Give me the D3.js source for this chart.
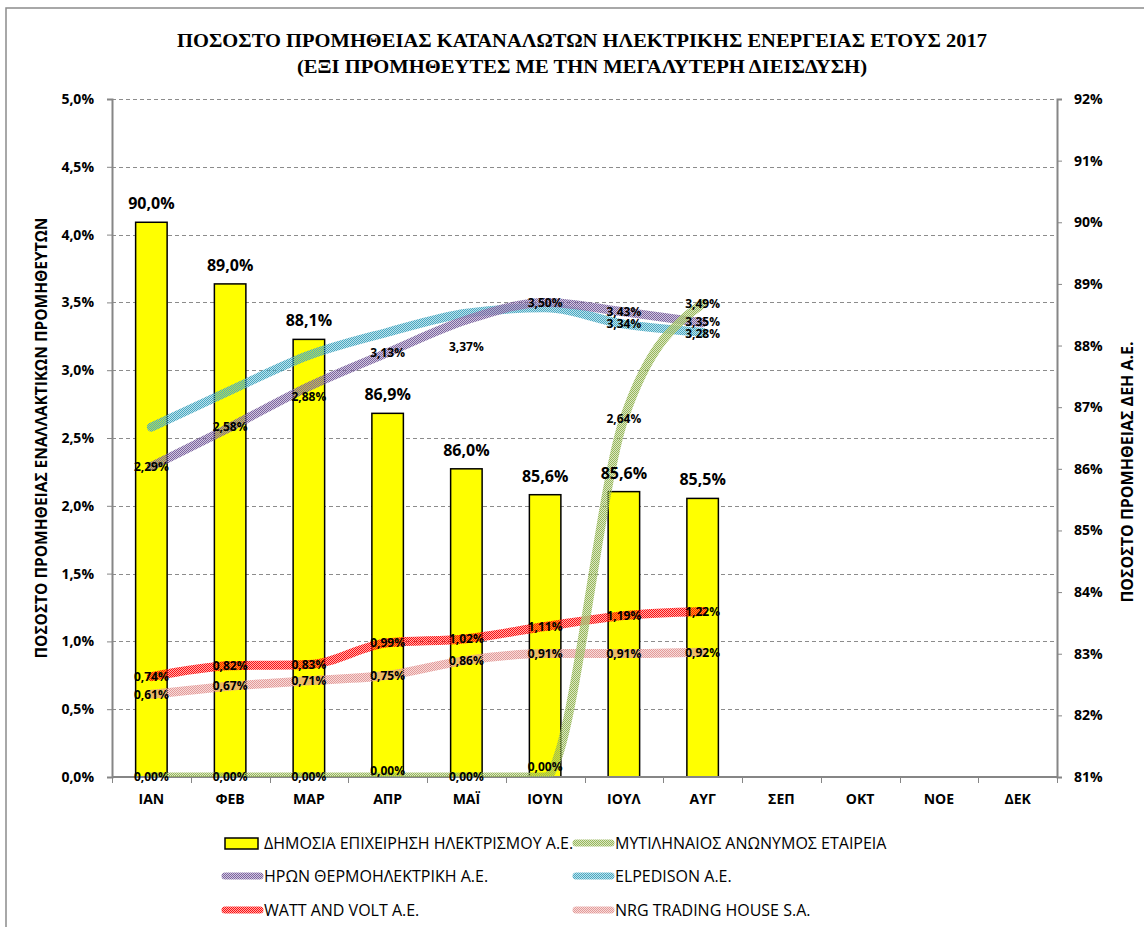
<!DOCTYPE html>
<html>
<head>
<meta charset="utf-8">
<script src="https://cdn.jsdelivr.net/npm/d3@7"></script>
<style>
  html, body { margin: 0; padding: 0; background: #fff; }
  svg { display: block; }
  text { font-family: "Open Sans", "Noto Sans", sans-serif; }
</style>
</head>
<body>
<svg id="chart" width="1144" height="927"></svg>
<script>
// ---------- DATA ----------
const months = ["ΙΑΝ", "ΦΕΒ", "ΜΑΡ", "ΑΠΡ", "ΜΑΪ", "ΙΟΥΝ", "ΙΟΥΛ", "ΑΥΓ", "ΣΕΠ", "ΟΚΤ", "ΝΟΕ", "ΔΕΚ"];
const dehShare   = [90.0, 89.0, 88.1, 86.9, 86.0, 85.58, 85.63, 85.52];   // right axis (%)
const mytilineos = [0.00, 0.00, 0.00, 0.00, 0.00, 0.00, 2.64, 3.49];       // left axis (%)
const heron      = [2.29, 2.58, 2.88, 3.13, 3.37, 3.50, 3.43, 3.35];
const elpedison  = [2.58, 2.85, 3.11, 3.28, 3.42, 3.46, 3.34, 3.28];
const wattVolt   = [0.74, 0.82, 0.83, 0.99, 1.02, 1.11, 1.19, 1.22];
const nrg        = [0.61, 0.67, 0.71, 0.75, 0.86, 0.91, 0.91, 0.92];
const leftTicks  = [0, 0.5, 1.0, 1.5, 2.0, 2.5, 3.0, 3.5, 4.0, 4.5, 5.0];
const rightTicks = [81, 82, 83, 84, 85, 86, 87, 88, 89, 90, 91, 92];
const seriesNames = [
  "ΔΗΜΟΣΙΑ ΕΠΙΧΕΙΡΗΣΗ ΗΛΕΚΤΡΙΣΜΟΥ Α.Ε.",
  "ΜΥΤΙΛΗΝΑΙΟΣ ΑΝΩΝΥΜΟΣ ΕΤΑΙΡΕΙΑ",
  "ΗΡΩΝ ΘΕΡΜΟΗΛΕΚΤΡΙΚΗ Α.Ε.",
  "ELPEDISON Α.Ε.",
  "WATT AND VOLT Α.Ε.",
  "NRG TRADING HOUSE S.A."
];
const titleLines = [
  "ΠΟΣΟΣΤΟ ΠΡΟΜΗΘΕΙΑΣ ΚΑΤΑΝΑΛΩΤΩΝ ΗΛΕΚΤΡΙΚΗΣ ΕΝΕΡΓΕΙΑΣ ΕΤΟΥΣ 2017",
  "(ΕΞΙ ΠΡΟΜΗΘΕΥΤΕΣ ΜΕ ΤΗΝ ΜΕΓΑΛΥΤΕΡΗ ΔΙΕΙΣΔΥΣΗ)"
];
const leftTitle = "ΠΟΣΟΣΤΟ ΠΡΟΜΗΘΕΙΑΣ ΕΝΑΛΛΑΚΤΙΚΩΝ ΠΡΟΜΗΘΕΥΤΩΝ";
const rightTitle = "ΠΟΣΟΣΤΟ ΠΡΟΜΗΘΕΙΑΣ ΔΕΗ Α.Ε.";

// ---------- LAYOUT / STYLE ----------
const svg = d3.select("#chart");
const plot = { left: 112, right: 1057, top: 99, bottom: 777 };
const fmt1 = v => v.toFixed(1).replace(".", ",") + "%";
const fmt2 = v => v.toFixed(2).replace(".", ",") + "%";
const fmt0 = v => v.toFixed(0) + "%";

const x = d3.scaleBand().domain(months).range([plot.left, plot.right]).padding(0);
const bw = x.bandwidth();
const cx = m => x(m) + bw / 2;
const yL = d3.scaleLinear().domain([0, 5]).range([plot.bottom, plot.top]);
const yR = d3.scaleLinear().domain([81, 92]).range([plot.bottom, plot.top]);

// chart border
svg.append("rect").attr("x", 6).attr("y", 8).attr("width", 1150).attr("height", 930)
  .attr("fill", "none").attr("stroke", "#8c8c8c").attr("stroke-width", 1.5);

// patterns for textured lines
const defs = svg.append("defs");
defs.append("clipPath").attr("id", "plotclip").append("rect")
  .attr("x", plot.left - 20).attr("y", plot.top - 20)
  .attr("width", plot.right - plot.left + 20).attr("height", plot.bottom - plot.top + 20);
const lineSeries = [
  { key: "myt", name: seriesNames[1], values: mytilineos, color: "#98b85a" },
  { key: "her", name: seriesNames[2], values: heron,      color: "#7c63a0" },
  { key: "elp", name: seriesNames[3], values: elpedison,  color: "#47a9c3" },
  { key: "wat", name: seriesNames[4], values: wattVolt,   color: "#ff1010" },
  { key: "nrg", name: seriesNames[5], values: nrg,        color: "#e49a98" }
];
lineSeries.forEach(s => {
  const p = defs.append("pattern").attr("id", "pat-" + s.key)
    .attr("patternUnits", "userSpaceOnUse").attr("width", 2).attr("height", 2);
  p.append("rect").attr("x", 0).attr("y", 0).attr("width", 1).attr("height", 1).attr("fill", s.color);
  p.append("rect").attr("x", 1).attr("y", 1).attr("width", 1).attr("height", 1).attr("fill", s.color);
  p.append("rect").attr("x", 1).attr("y", 0).attr("width", 1).attr("height", 1).attr("fill", s.color).attr("opacity", 0.35);
  p.append("rect").attr("x", 0).attr("y", 1).attr("width", 1).attr("height", 1).attr("fill", s.color).attr("opacity", 0.35);
});

// gridlines (left axis)
svg.append("g").selectAll("line").data(leftTicks.filter(d => d > 0)).join("line")
  .attr("x1", plot.left).attr("x2", plot.right)
  .attr("y1", d => Math.round(yL(d)) + 0.5).attr("y2", d => Math.round(yL(d)) + 0.5)
  .attr("stroke", "#8c8c8c").attr("stroke-width", 1).attr("stroke-dasharray", "4,3");

// title
const tl = svg.append("g").attr("font-weight", "bold").attr("font-size", 19).attr("text-anchor", "middle");
tl.append("text").attr("x", 582).attr("y", 47).attr("textLength", 810).attr("lengthAdjust", "spacingAndGlyphs")
  .style("font-family", "'Liberation Serif', serif").text(titleLines[0]);
tl.append("text").attr("x", 582).attr("y", 73).attr("textLength", 570).attr("lengthAdjust", "spacingAndGlyphs")
  .style("font-family", "'Liberation Serif', serif").text(titleLines[1]);

// bars (right axis)
const barW = bw * 0.4;
const barData = dehShare.map((v, i) => ({ m: months[i], v }));
svg.append("g").selectAll("rect").data(barData).join("rect")
  .attr("x", d => cx(d.m) - barW / 2).attr("y", d => yR(d.v))
  .attr("width", barW).attr("height", d => yR(81) - yR(d.v))
  .attr("fill", "#ffff00").attr("stroke", "#000").attr("stroke-width", 1.5);

// axes
const axisColor = "#868686";
const gL = svg.append("g").attr("transform", `translate(${plot.left},0)`)
  .call(d3.axisLeft(yL).tickValues(leftTicks).tickFormat(fmt1).tickSize(5).tickPadding(13));
const gR = svg.append("g").attr("transform", `translate(${plot.right},0)`)
  .call(d3.axisRight(yR).tickValues(rightTicks).tickFormat(fmt0).tickSize(5).tickPadding(12));
const gB = svg.append("g").attr("transform", `translate(0,${plot.bottom})`)
  .call(d3.axisBottom(x).tickSize(0).tickPadding(17));
[gL, gR, gB].forEach(g => {
  g.select(".domain").attr("stroke", axisColor).attr("stroke-width", 2);
  g.selectAll(".tick line").attr("stroke", axisColor).attr("stroke-width", 1);
  g.selectAll("text").attr("font-family", "'Open Sans', sans-serif").attr("font-weight", "bold")
    .attr("font-size", 14).attr("fill", "#000");
});
gB.select(".domain").attr("d", `M${plot.left},0H${plot.right}`);
// category boundary ticks
const bounds = months.map(m => x(m)).concat([plot.right]);
svg.append("g").selectAll("line").data(bounds).join("line")
  .attr("x1", d => Math.round(d) + 0.5).attr("x2", d => Math.round(d) + 0.5)
  .attr("y1", plot.bottom).attr("y2", plot.bottom + 6)
  .attr("stroke", axisColor).attr("stroke-width", 1);

// axis titles
svg.append("text").attr("transform", `translate(47,${(plot.top + plot.bottom) / 2}) rotate(-90)`)
  .attr("text-anchor", "middle").attr("font-weight", "bold").attr("font-size", 15.5).text(leftTitle);
svg.append("text").attr("transform", `translate(1133,472) rotate(-90)`)
  .attr("text-anchor", "middle").attr("font-weight", "bold").attr("font-size", 16).text(rightTitle);

// lines (left axis)
const line = d3.line().x((d, i) => cx(months[i])).y(d => yL(d)).curve(d3.curveMonotoneX);
const order = ["nrg", "wat", "elp", "her", "myt"];
const lineG = svg.append("g").attr("clip-path", "url(#plotclip)");
order.forEach(k => {
  const s = lineSeries.find(t => t.key === k);
  lineG.append("path").datum(s.values).attr("d", line)
    .attr("fill", "none").attr("stroke", `url(#pat-${s.key})`).attr("stroke-width", 9)
    .attr("stroke-linecap", "round").attr("stroke-linejoin", "round");
});

// bar labels
svg.append("g").selectAll("text").data(barData).join("text")
  .attr("x", d => cx(d.m)).attr("y", d => yR(d.v) - 13)
  .attr("text-anchor", "middle").attr("font-weight", "bold").attr("font-size", 16).text(d => fmt1(d.v));

// line labels (centered on points; small nudges where the original moved them)
const nudge = { "her-2": 10, "her-4": 27, "myt-3": -6, "myt-5": -10, "her-7": -1, "elp-7": 1 };
const labelled = { elp: [6, 7] };
const lg = svg.append("g");
lineSeries.forEach(s => {
  s.values.forEach((v, i) => {
    if (labelled[s.key] && !labelled[s.key].includes(i)) return;
    lg.append("text").attr("x", cx(months[i])).attr("y", yL(v) + (nudge[s.key + "-" + i] || 0))
      .attr("dy", "0.36em").attr("text-anchor", "middle").attr("font-weight", "bold")
      .attr("font-size", 12).attr("fill", "#000").text(fmt2(v));
  });
});

// legend
const legend = svg.append("g").attr("font-size", 16);
const legItems = [
  { name: seriesNames[0], type: "bar", col: 0, row: 0 },
  { name: seriesNames[1], key: "myt", col: 1, row: 0 },
  { name: seriesNames[2], key: "her", col: 0, row: 1 },
  { name: seriesNames[3], key: "elp", col: 1, row: 1 },
  { name: seriesNames[4], key: "wat", col: 0, row: 2 },
  { name: seriesNames[5], key: "nrg", col: 1, row: 2 }
];
const colX = [222, 573], rowY = [843, 876, 910];
legItems.forEach(it => {
  const gx = colX[it.col], gy = rowY[it.row];
  if (it.type === "bar") {
    legend.append("rect").attr("x", gx + 3).attr("y", gy - 5).attr("width", 33).attr("height", 11)
      .attr("fill", "#ffff00").attr("stroke", "#000").attr("stroke-width", 1.5);
  } else {
    legend.append("line").attr("x1", gx + 3).attr("x2", gx + 38).attr("y1", gy).attr("y2", gy)
      .attr("stroke", `url(#pat-${it.key})`).attr("stroke-width", 7).attr("stroke-linecap", "round");
  }
  legend.append("text").attr("x", gx + 42).attr("y", gy).attr("dy", "0.36em").attr("fill", "#000").text(it.name);
});
</script>
</body>
</html>
